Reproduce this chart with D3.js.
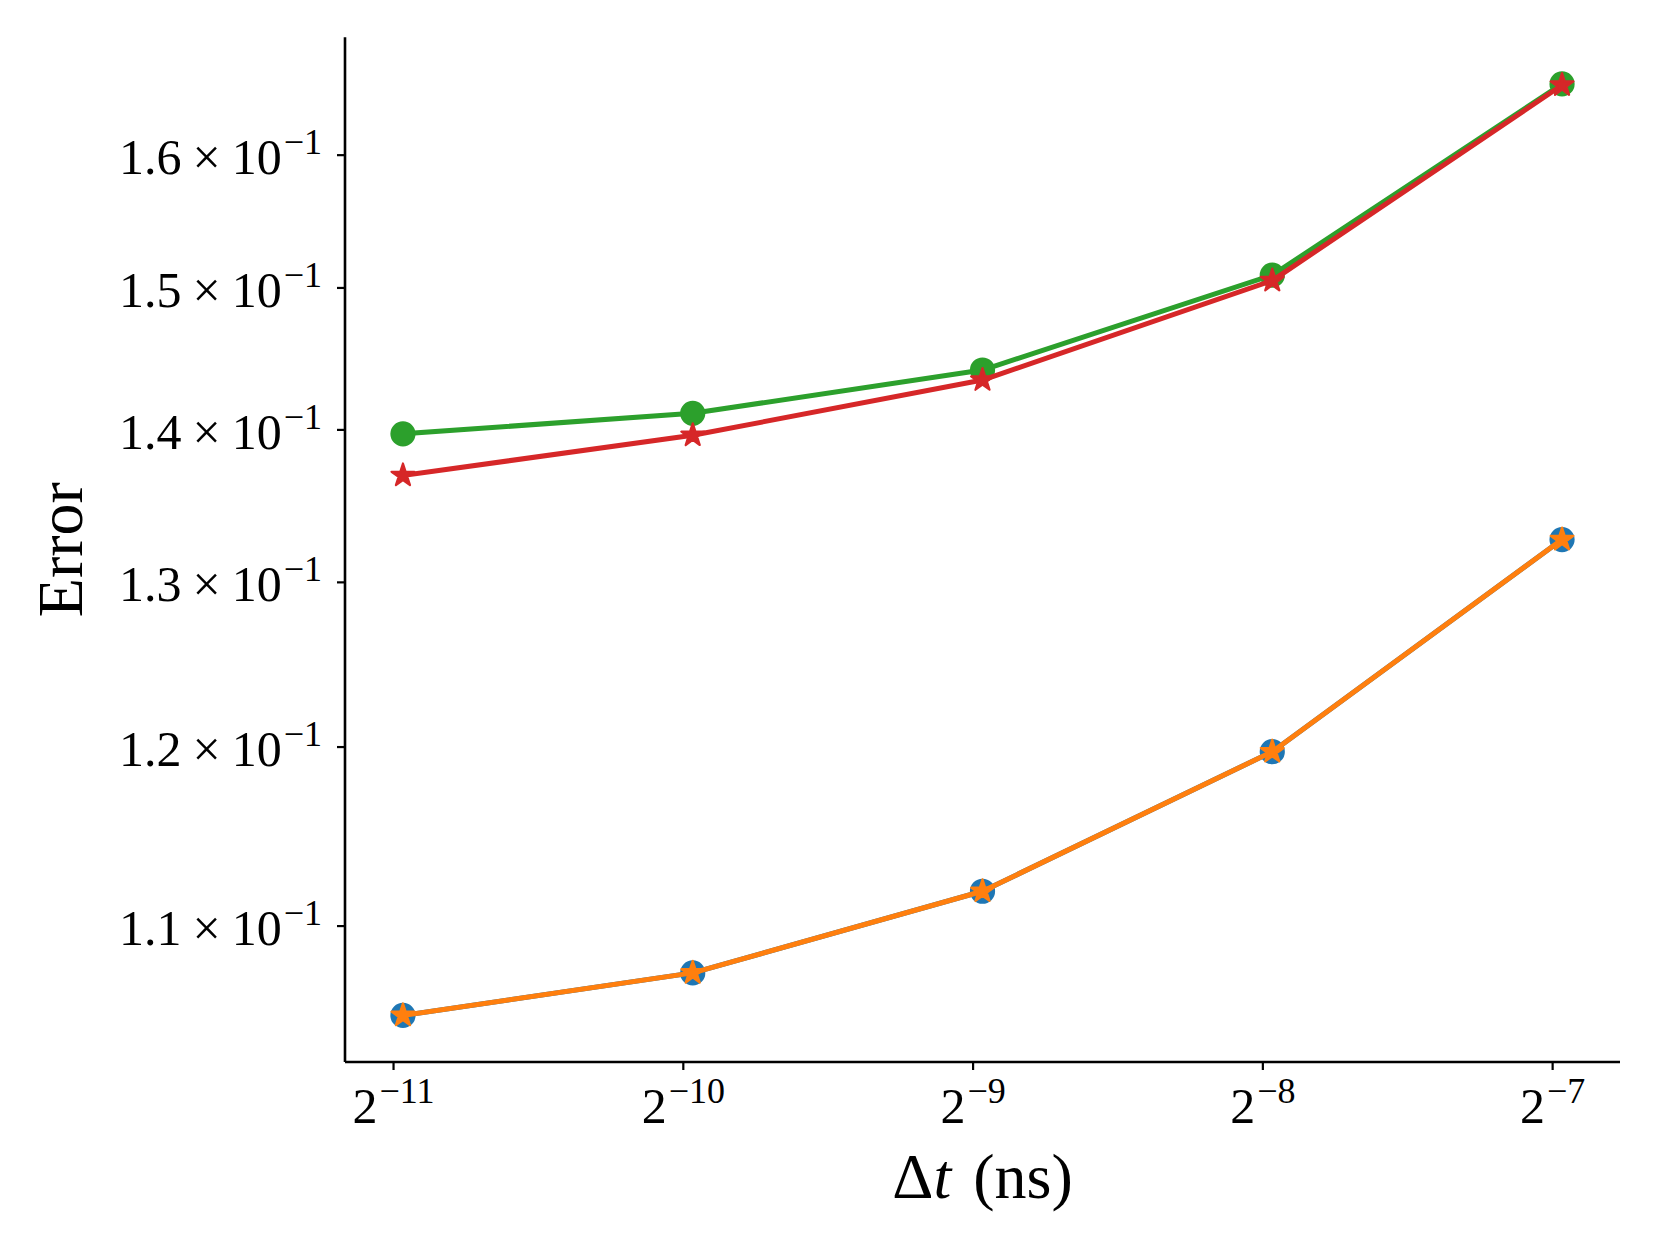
<!DOCTYPE html>
<html>
<head>
<meta charset="utf-8">
<script src="https://cdn.jsdelivr.net/npm/d3@7"></script>
<style>
  html, body { margin: 0; padding: 0; background: #fff; }
  svg { display: block; }
  text { font-family: "Liberation Serif", "DejaVu Serif", serif; fill: #000; }
</style>
</head>
<body>
<svg id="chart" width="1660" height="1245"></svg>
<script>
// ---- data ----
const dt = [0.0005, 0.001, 0.002, 0.004, 0.008];
const seriesBlue   = [0.1053, 0.1075, 0.11185, 0.1197, 0.1327];
const seriesOrange = [0.1053, 0.1075, 0.11185, 0.1197, 0.1327];
const seriesGreen  = [0.1397, 0.1411, 0.1441, 0.1509, 0.1656];
const seriesRed    = [0.1369, 0.1396, 0.1434, 0.1505, 0.1655];
const xTickValues = [Math.pow(2,-11), Math.pow(2,-10), Math.pow(2,-9), Math.pow(2,-8), Math.pow(2,-7)];
const xTickExps   = ["\u221211", "\u221210", "\u22129", "\u22128", "\u22127"];
const yTickValues = [0.11, 0.12, 0.13, 0.14, 0.15, 0.16];
const yTickMant   = ["1.1", "1.2", "1.3", "1.4", "1.5", "1.6"];
const yTickExp    = "\u22121";
const colors = {blue: "#1f77b4", orange: "#ff7f0e", green: "#2ca02c", red: "#d62728"};

(function () {
// ---- layout ----
const pLeft = 345, pRight = 1620, pTop = 37.3, pBottom = 1062;
const svg = d3.select("#chart");

function logPad(vals) {
  const lo = Math.log(d3.min(vals)), hi = Math.log(d3.max(vals));
  const p = 0.05 * (hi - lo);
  return [Math.exp(lo - p), Math.exp(hi + p)];
}
const x = d3.scaleLog().base(2).domain(logPad(dt)).range([pLeft, pRight]);
const allY = seriesBlue.concat(seriesOrange, seriesGreen, seriesRed);
const y = d3.scaleLog().domain(logPad(allY)).range([pBottom, pTop]);

const tickFont = 50, supFont = 36, labelFont = 64;

// ---- axes ----
const gx = svg.append("g").attr("transform", `translate(0,${pBottom})`)
  .call(d3.axisBottom(x).tickValues(xTickValues).tickSize(8).tickSizeOuter(0).tickFormat(""));
gx.select(".domain").attr("stroke", "#000").attr("stroke-width", 2.6).attr("d", `M${pLeft},0H${pRight}`);
gx.selectAll(".tick line").attr("stroke", "#000").attr("stroke-width", 2.2);
gx.selectAll(".tick text").remove();
gx.selectAll(".tick").each(function(d, i) {
  const t = d3.select(this).append("text")
    .attr("y", 61).attr("text-anchor", "middle")
    .style("font-size", tickFont + "px");
  t.append("tspan").text("2");
  t.append("tspan").attr("dx", 2).attr("dy", -20).style("font-size", supFont + "px").text(xTickExps[i]);
});

const gy = svg.append("g").attr("transform", `translate(${pLeft},0)`)
  .call(d3.axisLeft(y).tickValues(yTickValues).tickSize(8).tickSizeOuter(0).tickFormat(""));
gy.select(".domain").attr("stroke", "#000").attr("stroke-width", 2.6).attr("d", `M0,${pTop}V${pBottom}`);
gy.selectAll(".tick line").attr("stroke", "#000").attr("stroke-width", 2.2);
gy.selectAll(".tick text").remove();
gy.selectAll(".tick").each(function(d, i) {
  const t = d3.select(this).append("text")
    .attr("x", -23).attr("y", 19).attr("text-anchor", "end")
    .style("font-size", tickFont + "px");
  t.append("tspan").text(yTickMant[i]);
  t.append("tspan").attr("dx", 11).text("\u00d7");
  t.append("tspan").attr("dx", 11).text("10");
  t.append("tspan").attr("dx", 2).attr("dy", -20).style("font-size", supFont + "px").text(yTickExp);
});

// ---- labels ----
const xl = svg.append("text").attr("x", (pLeft + pRight) / 2).attr("y", 1198)
  .attr("text-anchor", "middle").style("font-size", labelFont + "px");
xl.append("tspan").text("\u0394");
xl.append("tspan").style("font-style", "italic").text("t");
xl.append("tspan").attr("dx", 6).text(" (ns)");

svg.append("text")
  .attr("transform", `translate(82,${(pTop + pBottom) / 2}) rotate(-90)`)
  .attr("text-anchor", "middle").style("font-size", labelFont + "px")
  .text("Error");

// ---- series ----
const line = d3.line().x(d => x(d[0])).y(d => y(d[1]));
const series = [
  {vals: seriesBlue, color: colors.blue, marker: "circle"},
  {vals: seriesOrange, color: colors.orange, marker: "star"},
  {vals: seriesGreen, color: colors.green, marker: "circle"},
  {vals: seriesRed, color: colors.red, marker: "star"}
];
const starR = 12;
const starPath = d3.symbol(d3.symbolStar, starR * starR / 0.8908130915292852)();
series.forEach(s => {
  const pts = dt.map((d, i) => [d, s.vals[i]]);
  const g = svg.append("g");
  g.append("path").datum(pts).attr("d", line)
    .attr("fill", "none").attr("stroke", s.color).attr("stroke-width", 5)
    .attr("stroke-linejoin", "round").attr("stroke-linecap", "square");
  if (s.marker === "circle") {
    g.selectAll("circle").data(pts).join("circle")
      .attr("cx", d => x(d[0])).attr("cy", d => y(d[1])).attr("r", 11.5)
      .attr("fill", s.color).attr("stroke", s.color).attr("stroke-width", 2.2);
  } else {
    g.selectAll("path.star").data(pts).join("path").attr("class", "star")
      .attr("transform", d => `translate(${x(d[0])},${y(d[1])})`)
      .attr("d", starPath)
      .attr("fill", s.color).attr("stroke", s.color).attr("stroke-width", 2.2)
      .attr("stroke-linejoin", "round");
  }
});
})();
</script>
</body>
</html>
